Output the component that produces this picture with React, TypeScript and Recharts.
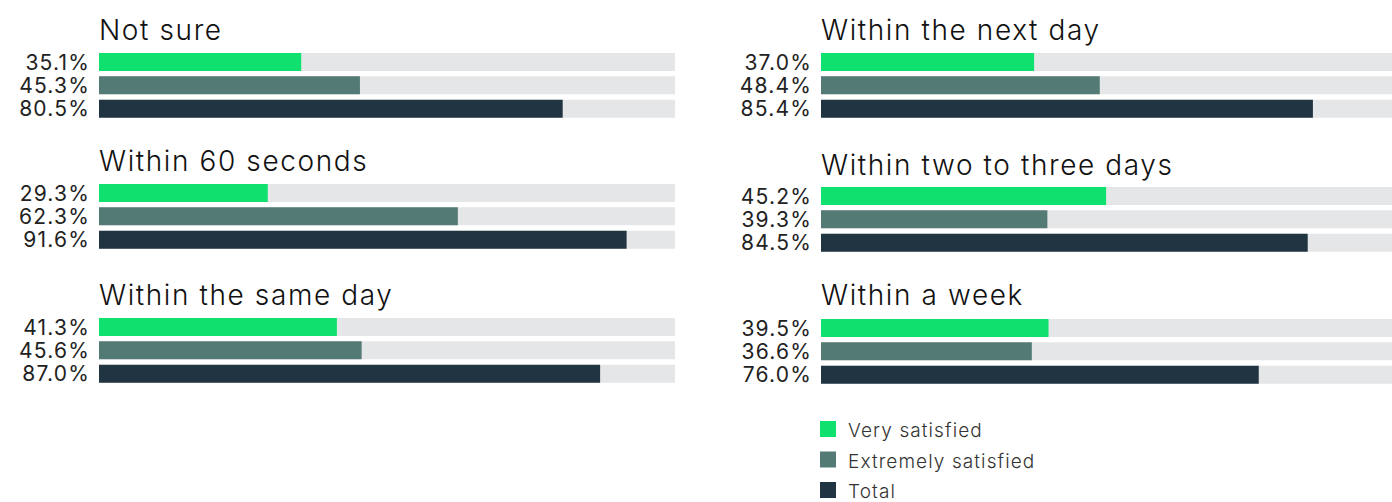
import React from 'react';
import { BarChart, Bar, XAxis, YAxis, Cell } from 'recharts';

const seriesNames = ['Very satisfied', 'Extremely satisfied', 'Total'];
const seriesColors = ['#10e06e', '#537a75', '#213441'];
const trackColor = '#e5e6e8';

const panelTitles = [
  'Not sure',
  'Within 60 seconds',
  'Within the same day',
  'Within the next day',
  'Within two to three days',
  'Within a week',
];

// bar lengths as drawn
const verySatisfied = [35.1, 29.3, 41.3, 37.0, 49.5, 39.5];
const extremelySatisfied = [45.3, 62.3, 45.6, 48.4, 39.3, 36.6];
const total = [80.5, 91.6, 87.0, 85.4, 84.5, 76.0];

// printed labels (the two-to-three-days green label differs from its bar in the source)
const verySatisfiedLabels = ['35.1%', '29.3%', '41.3%', '37.0%', '45.2%', '39.5%'];
const extremelySatisfiedLabels = ['45.3%', '62.3%', '45.6%', '48.4%', '39.3%', '36.6%'];
const totalLabels = ['80.5%', '91.6%', '87.0%', '85.4%', '84.5%', '76.0%'];

// where each small panel sits on the page
const panelBoxes = [
  { left: 0, top: 50, titleY: 40 },
  { left: 0, top: 180.5, titleY: 171 },
  { left: 0, top: 315, titleY: 305 },
  { left: 722, top: 50, titleY: 40 },
  { left: 722, top: 184, titleY: 175 },
  { left: 722, top: 315.5, titleY: 305 },
];

const labelFont = 'Inter, "Open Sans", sans-serif';

const ValueTick = (props: any) => {
  const { x, y, payload } = props;
  return (
    <text x={x} y={y} dy={8} textAnchor="end" fontSize={21} fill="#222" fontFamily={labelFont} letterSpacing={1.2}>
      {payload.value}
    </text>
  );
};

function Panel({ index }: { index: number }) {
  const box = panelBoxes[index];
  const data = [
    { key: seriesNames[0], value: verySatisfied[index], label: verySatisfiedLabels[index] },
    { key: seriesNames[1], value: extremelySatisfied[index], label: extremelySatisfiedLabels[index] },
    { key: seriesNames[2], value: total[index], label: totalLabels[index] },
  ];

  return (
    <div style={{ position: 'absolute', left: box.left, top: box.top }}>
      <BarChart
        width={675}
        height={70}
        data={data}
        layout="vertical"
        margin={{ top: 0, right: 0, bottom: 0, left: 0 }}
      >
        <XAxis type="number" domain={[0, 100]} hide />
        <YAxis
          type="category"
          dataKey="label"
          width={99}
          axisLine={false}
          tickLine={false}
          tickSize={0}
          tickMargin={9}
          tick={<ValueTick />}
          interval={0}
        />
        <Bar dataKey="value" barSize={18} background={{ fill: trackColor }} isAnimationActive={false}>
          {data.map((d, i) => (
            <Cell key={d.key} fill={seriesColors[i]} />
          ))}
        </Bar>
      </BarChart>
    </div>
  );
}

export default function App() {
  return (
    <div
      style={{
        position: 'absolute',
        left: 0,
        top: 0,
        width: 1392,
        height: 502,
        overflow: 'hidden',
        background: '#fff',
      }}
    >
      {panelTitles.map((_, i) => (
        <Panel key={i} index={i} />
      ))}
      <svg width={1392} height={502} style={{ position: 'absolute', left: 0, top: 0, pointerEvents: 'none' }}>
        {panelTitles.map((t, i) => (
          <text
            key={t}
            x={panelBoxes[i].left + 99}
            y={panelBoxes[i].titleY}
            fontSize={28}
            fontWeight={300}
            fill="#111"
            fontFamily={labelFont}
            letterSpacing={1.6}
          >
            {t}
          </text>
        ))}
        {seriesNames.map((name, i) => (
          <g key={name}>
            <rect x={820} y={421 + i * 30.5} width={16} height={16} fill={seriesColors[i]} />
            <text
              x={848}
              y={437 + i * 30.5}
              fontSize={19}
              fill="#333"
              fontFamily={labelFont}
              fontWeight={300}
              letterSpacing={1.1}
            >
              {name}
            </text>
          </g>
        ))}
      </svg>
    </div>
  );
}
